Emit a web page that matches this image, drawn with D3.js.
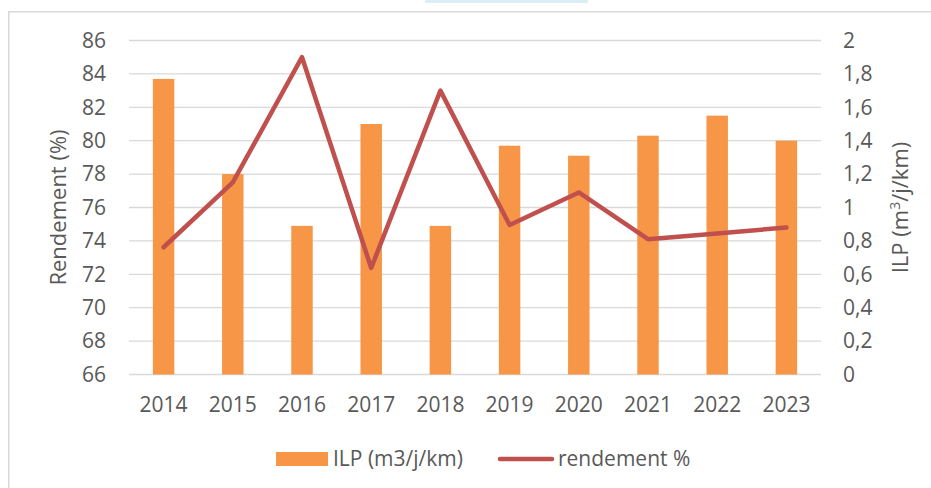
<!DOCTYPE html>
<html>
<head>
<meta charset="utf-8">
<script src="https://cdn.jsdelivr.net/npm/d3@7"></script>
<style>
  body { margin: 0; background: #fff; }
  svg { display: block; font-family: "Open Sans", sans-serif; }
</style>
</head>
<body>
<div id="viz"></div>
<script>
// data
var years = ['2014', '2015', '2016', '2017', '2018', '2019', '2020', '2021', '2022', '2023'];
var ilp = [1.77, 1.2, 0.89, 1.5, 0.89, 1.37, 1.31, 1.43, 1.55, 1.4];
var rendement = [73.62, 77.5, 85.0, 72.38, 83.0, 74.95, 76.9, 74.1, 74.45, 74.8];
var leftTicks = [66, 68, 70, 72, 74, 76, 78, 80, 82, 84, 86];
var rightTicks = [0, 0.2, 0.4, 0.6, 0.8, 1, 1.2, 1.4, 1.6, 1.8, 2];

var width = 931;
var height = 488;
var margin = { top: 40.5, right: 110, bottom: 113.5, left: 129 };
var textColor = '#595959';
var barColor = '#F79646';
var lineColor = '#C0504D';

var svg = d3.select('#viz')
    .append('svg')
    .attr('width', width)
    .attr('height', height);

// little blue tab at the top and the chart frame
svg.append('rect')
    .attr('x', 425).attr('y', 0)
    .attr('width', 163).attr('height', 3)
    .attr('fill', '#DAEEF3');

svg.append('path')
    .attr('d', 'M8.75,' + height + 'V11.75H' + width)
    .attr('fill', 'none')
    .attr('stroke', '#D9D9D9')
    .attr('stroke-width', 1.5);

var x = d3.scaleBand()
    .domain(years)
    .range([margin.left, width - margin.right])
    .paddingInner(0.69)
    .paddingOuter(0.345);

var yLeft = d3.scaleLinear()
    .domain([66, 86])
    .range([height - margin.bottom, margin.top]);

var yRight = d3.scaleLinear()
    .domain([0, 2])
    .range([height - margin.bottom, margin.top]);

// gridlines
svg.append('g')
    .selectAll('line')
    .data(leftTicks)
    .enter().append('line')
    .attr('x1', margin.left)
    .attr('x2', width - margin.right)
    .attr('y1', function (d) { return yLeft(d); })
    .attr('y2', function (d) { return yLeft(d); })
    .attr('stroke', '#D9D9D9')
    .attr('stroke-width', 1.3);

// bars (ILP, right axis)
svg.append('g')
    .selectAll('rect')
    .data(ilp)
    .enter().append('rect')
    .attr('x', function (d, i) { return x(years[i]); })
    .attr('width', x.bandwidth())
    .attr('y', function (d) { return yRight(d); })
    .attr('height', function (d) { return yRight(0) - yRight(d); })
    .attr('fill', barColor);

// line (rendement, left axis)
var line = d3.line()
    .x(function (d, i) { return x(years[i]) + x.bandwidth() / 2; })
    .y(function (d) { return yLeft(d); });

svg.append('path')
    .datum(rendement)
    .attr('d', line)
    .attr('fill', 'none')
    .attr('stroke', lineColor)
    .attr('stroke-width', 4.5)
    .attr('stroke-linejoin', 'round')
    .attr('stroke-linecap', 'round');

// axes
var fmt = function (d) { return String(d).replace('.', ','); };

var leftAxis = svg.append('g')
    .attr('transform', 'translate(' + margin.left + ',0)')
    .call(d3.axisLeft(yLeft).tickValues(leftTicks).tickSize(0).tickPadding(23));

var rightAxis = svg.append('g')
    .attr('transform', 'translate(' + (width - margin.right) + ',0)')
    .call(d3.axisRight(yRight).tickValues(rightTicks).tickSize(0).tickPadding(22).tickFormat(fmt));

var bottomAxis = svg.append('g')
    .attr('transform', 'translate(0,' + (height - margin.bottom) + ')')
    .call(d3.axisBottom(x).tickSize(0).tickPadding(23));

[leftAxis, rightAxis, bottomAxis].forEach(function (g) {
    g.select('.domain').remove();
    g.selectAll('text')
        .attr('fill', textColor)
        .style('font-size', '21px')
        .style('font-family', '"Open Sans", sans-serif');
});
bottomAxis.selectAll('text').attr('dy', '0.71em');

// axis titles
svg.append('text')
    .attr('transform', 'translate(66,' + yLeft(76) + ') rotate(-90)')
    .attr('text-anchor', 'middle')
    .attr('fill', textColor)
    .style('font-size', '22px')
    .text('Rendement (%)');

var rTitle = svg.append('text')
    .attr('transform', 'translate(908,' + yRight(1) + ') rotate(-90)')
    .attr('text-anchor', 'middle')
    .attr('fill', textColor)
    .style('font-size', '22px');
rTitle.append('tspan').text('ILP (m');
rTitle.append('tspan').attr('dy', -8).style('font-size', '14px').text('3');
rTitle.append('tspan').attr('dy', 8).text('/j/km)');

// legend
var legend = svg.append('g');
legend.append('rect')
    .attr('x', 276).attr('y', 452)
    .attr('width', 52).attr('height', 14)
    .attr('fill', barColor);
legend.append('text')
    .attr('x', 333).attr('y', 466)
    .attr('fill', textColor)
    .style('font-size', '21px')
    .text('ILP (m3/j/km)');
legend.append('line')
    .attr('x1', 500).attr('x2', 552)
    .attr('y1', 459).attr('y2', 459)
    .attr('stroke', lineColor)
    .attr('stroke-width', 4.5)
    .attr('stroke-linecap', 'round');
legend.append('text')
    .attr('x', 558).attr('y', 466)
    .attr('fill', textColor)
    .style('font-size', '21px')
    .text('rendement %');
</script>
</body>
</html>
